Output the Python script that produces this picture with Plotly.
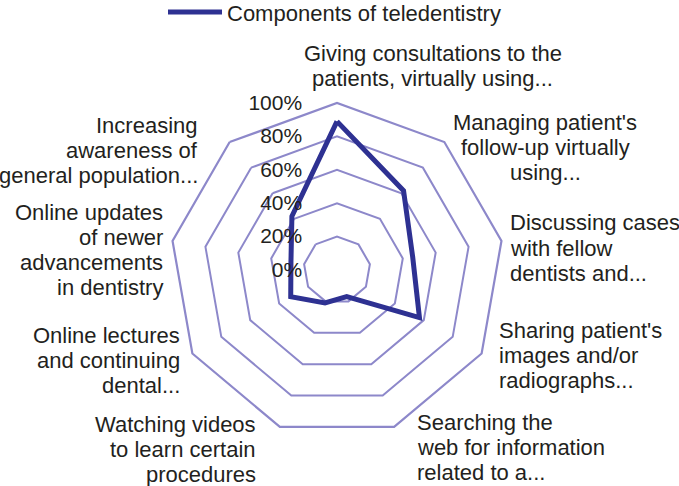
import plotly.graph_objects as go

# ---- data ----
categories = [
    "Giving consultations to the patients, virtually using...",
    "Managing patient's follow-up virtually using...",
    "Discussing cases with fellow dentists and...",
    "Sharing patient's images and/or radiographs...",
    "Searching the web for information related to a...",
    "Watching videos to learn certain procedures",
    "Online lectures and continuing dental...",
    "Online updates of newer advancements in dentistry",
    "Increasing awareness of general population...",
]
label_lines = [
    ["Giving consultations to the", "patients, virtually using..."],
    ["Managing patient's", "follow-up virtually", "using..."],
    ["Discussing cases", "with fellow", "dentists and..."],
    ["Sharing patient's", "images and/or", "radiographs..."],
    ["Searching the", "web for information", "related to a..."],
    ["Watching videos", "to learn certain", "procedures"],
    ["Online lectures", "and continuing", "dental..."],
    ["Online updates", "of newer", "advancements", "in dentistry"],
    ["Increasing", "awareness of", "general population..."],
]
values = [89, 62, 46, 57, 17, 21, 32, 28, 42]
series_name = "Components of teledentistry"
radial_ticks = [0, 20, 40, 60, 80, 100]
radial_labels = ["0%", "20%", "40%", "60%", "80%", "100%"]

# ---- layout constants (pixels) ----
W, H = 679, 486
CX, CY, R = 337, 270, 167
# label placement: (anchor x, first line centre y, alignment)
label_place = [
    (433, 53, "center"),
    (545, 122, "center"),
    (508, 223, "left"),
    (497, 330, "left"),
    (415, 422, "left"),
    (258, 424, "right"),
    (182, 335, "right"),
    (165, 212, "right"),
    (200, 125, "right"),
]
LINE_GAP = 25.3

GRID = "#8d88ca"
LINE = "#2e3192"
TEXT = "#231f20"
FONT = "Liberation Sans, Arial, sans-serif"

fig = go.Figure()
fig.add_trace(go.Scatterpolar(
    r=values + values[:1],
    theta=categories + categories[:1],
    mode="lines",
    name=series_name,
    line=dict(color=LINE, width=5),
))

annotations = []
for lines, (ax, ay, al) in zip(label_lines, label_place):
    for i, txt in enumerate(lines):
        annotations.append(dict(
            text=txt, xref="paper", yref="paper",
            x=ax / W, y=1 - (ay + i * LINE_GAP) / H,
            xanchor=al, yanchor="middle", showarrow=False,
            font=dict(family=FONT, size=22, color=TEXT),
        ))

fig.update_layout(
    width=W, height=H,
    paper_bgcolor="white",
    font=dict(family=FONT, size=21, color=TEXT),
    margin=dict(l=0, r=0, t=0, b=0, autoexpand=False),
    showlegend=True,
    legend=dict(orientation="h", x=163 / W, xanchor="left", y=1.018, yanchor="top",
                font=dict(family=FONT, size=22, color=TEXT), itemwidth=54,
                bgcolor="rgba(0,0,0,0)"),
    annotations=annotations,
    polar=dict(
        domain=dict(x=[(CX - R) / W, (CX + R) / W], y=[1 - (CY + R) / H, 1 - (CY - R) / H]),
        bgcolor="white",
        gridshape="linear",
        angularaxis=dict(
            direction="clockwise", rotation=90,
            showgrid=False, showline=True, linecolor=GRID, linewidth=2.2,
            ticks="", showticklabels=False,
        ),
        radialaxis=dict(
            range=[0, 100], angle=90, side="counterclockwise",
            tickvals=radial_ticks, ticktext=radial_labels, tickangle=90,
            showline=False, gridcolor=GRID, gridwidth=2.2,
            ticks="outside", ticklen=27, tickcolor="rgba(0,0,0,0)",
            tickfont=dict(family=FONT, size=21, color=TEXT),
        ),
    ),
)

fig.write_html("out.html", config={"displayModeBar": False},
               post_script="document.body.style.margin='0px';")
